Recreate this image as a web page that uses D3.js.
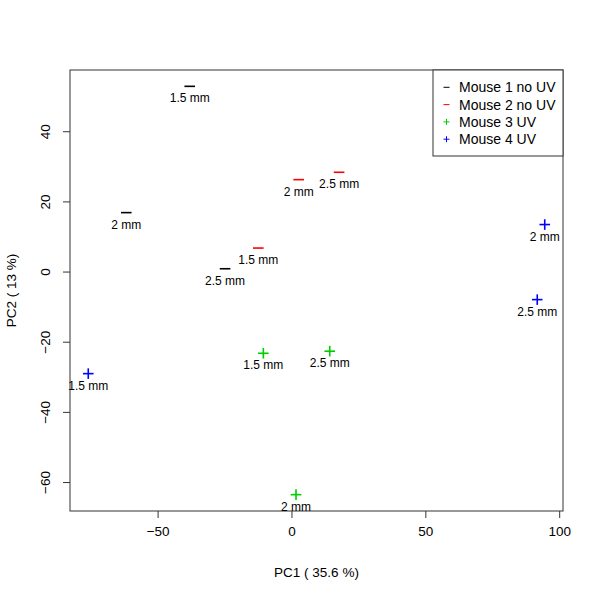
<!DOCTYPE html>
<html>
<head>
<meta charset="utf-8">
<script src="https://cdn.jsdelivr.net/npm/d3@7"></script>
<style>
  body { margin: 0; background: #fff; }
  text { font-family: "Liberation Sans", Arial, sans-serif; fill: #000; }
</style>
</head>
<body>
<div id="chart"></div>
<script>
// PCA scores
const mice = ['Mouse 1 no UV', 'Mouse 2 no UV', 'Mouse 3 UV', 'Mouse 4 UV'];
const mouseColors = ['#000000', '#ff0000', '#00cd00', '#0000ff'];
const mouseSymbols = ['dash', 'dash', 'plus', 'plus'];
const group = [0, 0, 0, 1, 1, 1, 2, 2, 2, 3, 3, 3];
const sizeLabels = ['1.5 mm', '2 mm', '2.5 mm', '1.5 mm', '2 mm', '2.5 mm',
  '1.5 mm', '2 mm', '2.5 mm', '1.5 mm', '2 mm', '2.5 mm'];
const pc1 = [-38.0, -61.7, -24.8, -12.4, 2.7, 17.8, -10.5, 1.7, 14.3, -75.9, 94.6, 91.8];
const pc2 = [52.8, 16.8, 0.8, 6.7, 26.2, 28.3, -23.3, -63.6, -22.7, -29.1, 13.4, -8.0];
const xTicks = [-50, 0, 50, 100];
const yTicks = [-60, -40, -20, 0, 20, 40];
const xLabel = 'PC1 ( 35.6 %)';
const yLabel = 'PC2 ( 13 %)';

const data = pc1.map((v, i) => ({
  x: v, y: pc2[i], g: group[i], label: sizeLabels[i],
}));

// plot region like R's default margins
const margin = {
  top: 70, right: 37, bottom: 89, left: 70,
};
const W = 600;
const H = 600;
const width = W - margin.left - margin.right;
const height = H - margin.top - margin.bottom;

// R style 4% padding on each side
const pad = (ext) => {
  const r = ext[1] - ext[0];
  return [ext[0] - 0.04 * r, ext[1] + 0.04 * r];
};

const x = d3.scaleLinear().domain(pad(d3.extent(pc1))).range([0, width]);
const y = d3.scaleLinear().domain(pad(d3.extent(pc2))).range([height, 0]);

const svg = d3.select('#chart').append('svg')
  .attr('width', W)
  .attr('height', H)
  .append('g')
  .attr('transform', `translate(${margin.left}, ${margin.top})`);

const minus = (d) => (d < 0 ? `\u2212${-d}` : d);

// axes
const xAxis = svg.append('g')
  .attr('transform', `translate(0, ${height})`)
  .call(d3.axisBottom(x).tickValues(xTicks).tickSize(7).tickPadding(18)
    .tickFormat(minus));
xAxis.select('.domain').remove();
xAxis.selectAll('text')
  .attr('font-family', null)
  .attr('dy', null)
  .style('font-size', '13.5px');
xAxis.selectAll('line').attr('stroke', '#333');

const yAxis = svg.append('g')
  .call(d3.axisLeft(y).tickValues(yTicks).tickSize(7).tickFormat(minus));
yAxis.select('.domain').remove();
yAxis.selectAll('line').attr('stroke', '#333');
yAxis.selectAll('text')
  .attr('font-family', null)
  .attr('x', null)
  .attr('dy', null)
  .attr('text-anchor', 'middle')
  .style('font-size', '13.5px')
  .attr('transform', 'translate(-20.5, 0) rotate(-90)');

// box
svg.append('rect')
  .attr('width', width)
  .attr('height', height)
  .attr('fill', 'none')
  .attr('stroke', '#333')
  .attr('stroke-width', 1);

// axis titles
svg.append('text')
  .attr('x', width / 2)
  .attr('y', height + 66)
  .attr('text-anchor', 'middle')
  .style('font-size', '13.5px')
  .text(xLabel);

svg.append('text')
  .attr('transform', `translate(${15.5 - margin.left}, ${height / 2}) rotate(-90)`)
  .attr('text-anchor', 'middle')
  .style('font-size', '13.5px')
  .text(yLabel);

// point symbols
const drawSymbol = (sel, kind, half, color, sw) => {
  sel.append('line')
    .attr('x1', -half).attr('x2', half).attr('y1', 0).attr('y2', 0)
    .attr('stroke', color).attr('stroke-width', sw);
  if (kind === 'plus') {
    sel.append('line')
      .attr('x1', 0).attr('x2', 0).attr('y1', -half).attr('y2', half)
      .attr('stroke', color).attr('stroke-width', sw);
  }
};

const pts = svg.selectAll('.pt')
  .data(data)
  .enter()
  .append('g')
  .attr('class', 'pt')
  .attr('transform', (d) => `translate(${x(d.x)}, ${y(d.y)})`);

pts.each(function (d) {
  drawSymbol(d3.select(this), mouseSymbols[d.g], 5.3, mouseColors[d.g], 1.6);
});

pts.append('text')
  .attr('y', 16)
  .attr('text-anchor', 'middle')
  .style('font-size', '12px')
  .text((d) => d.label);

// legend
const legW = 130;
const legH = 86;
const legend = svg.append('g')
  .attr('transform', `translate(${width - legW}, 0)`);

legend.append('rect')
  .attr('width', legW)
  .attr('height', legH)
  .attr('fill', '#fff')
  .attr('stroke', '#333');

mice.forEach((m, i) => {
  const row = legend.append('g')
    .attr('transform', `translate(0, ${17.3 + i * 17.3})`);
  const sym = row.append('g').attr('transform', 'translate(13.5, 0)');
  drawSymbol(sym, mouseSymbols[i], 3, mouseColors[i], 1);
  row.append('text')
    .attr('x', 26)
    .attr('y', 5)
    .style('font-size', '14px')
    .text(m);
});
</script>
</body>
</html>
